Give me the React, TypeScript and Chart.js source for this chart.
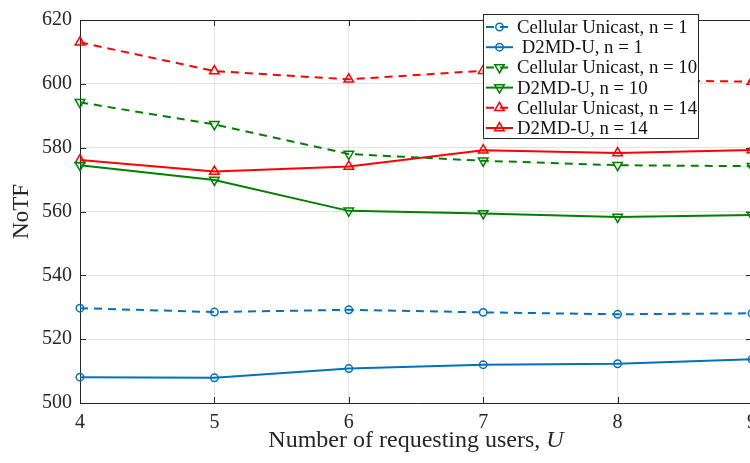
import React, { useEffect, useRef } from 'react';
import { Chart, registerables } from 'chart.js';

Chart.register(...registerables);

// Number of requesting users U
const users = ['4', '5', '6', '7', '8', '9'];

// NoTF per scheme and group size n
const cellularN1 = [529.7, 528.5, 529.2, 528.4, 527.8, 528.1];
const d2mdN1 = [508.1, 507.9, 510.8, 512.0, 512.3, 513.7];
const cellularN10 = [594.2, 587.3, 578.0, 575.9, 574.5, 574.2];
const d2mdN10 = [574.5, 569.9, 560.2, 559.4, 558.3, 558.9];
const cellularN14 = [613.0, 604.0, 601.4, 604.1, 601.2, 600.7];
const d2mdN14 = [576.1, 572.5, 574.1, 579.2, 578.3, 579.3];

const seriesLabels = [
  'Cellular Unicast, n = 1',
  ' D2MD-U, n = 1',
  'Cellular Unicast, n = 10',
  'D2MD-U, n = 10',
  'Cellular Unicast, n = 14',
  'D2MD-U, n = 14',
];

const Y_MIN = 500;
const Y_MAX = 620;
const Y_STEP = 20;

const BLUE = '#0072BD';
const GREEN = '#008000';
const RED = '#FF0000';
const AXIS = '#262626';
const GRID = 'rgba(38,38,38,0.13)';
const DASH = [8, 6];
const SERIF = "'Liberation Serif', 'Times New Roman', serif";

const CANVAS_W = 772;
const CANVAS_H = 463;

type Marker = { style: 'circle' | 'triangle'; rot: number; r: number };

function drawMarker(ctx: CanvasRenderingContext2D, m: Marker, x: number, y: number, color: string) {
  ctx.save();
  ctx.setLineDash([]);
  ctx.beginPath();
  if (m.style === 'circle') {
    ctx.arc(x, y, m.r, 0, Math.PI * 2);
  } else {
    let a = (m.rot * Math.PI) / 180;
    for (let k = 0; k < 3; k++) {
      const px = x + Math.sin(a) * m.r;
      const py = y - Math.cos(a) * m.r;
      if (k === 0) ctx.moveTo(px, py);
      else ctx.lineTo(px, py);
      a += (2 * Math.PI) / 3;
    }
    ctx.closePath();
  }
  ctx.lineWidth = 1.5;
  ctx.strokeStyle = color;
  ctx.stroke();
  ctx.restore();
}

const markers: Marker[] = [
  { style: 'circle', rot: 0, r: 3.7 },
  { style: 'circle', rot: 0, r: 3.7 },
  { style: 'triangle', rot: 180, r: 5.5 },
  { style: 'triangle', rot: 180, r: 5.5 },
  { style: 'triangle', rot: 0, r: 5.5 },
  { style: 'triangle', rot: 0, r: 5.5 },
];
const colors = [BLUE, BLUE, GREEN, GREEN, RED, RED];
const dashed = [true, false, true, false, true, false];
const values = [cellularN1, d2mdN1, cellularN10, d2mdN10, cellularN14, d2mdN14];

// Box around the axes with inward tick marks, x title and legend
const framePlugin = {
  id: 'frame',
  beforeDatasetsDraw(chart: any) {
    const { ctx, chartArea: a, scales } = chart;
    const x = scales.x;
    const y = scales.y;
    const len = 6;
    ctx.save();
    ctx.strokeStyle = AXIS;
    ctx.lineWidth = 1;
    ctx.setLineDash([]);
    ctx.beginPath();
    ctx.rect(Math.round(a.left) + 0.5, Math.round(a.top) + 0.5, Math.round(a.right - a.left), Math.round(a.bottom - a.top));
    x.ticks.forEach((_t: any, i: number) => {
      const px = Math.round(x.getPixelForTick(i)) + 0.5;
      ctx.moveTo(px, a.bottom);
      ctx.lineTo(px, a.bottom - len);
      ctx.moveTo(px, a.top);
      ctx.lineTo(px, a.top + len);
    });
    y.ticks.forEach((_t: any, i: number) => {
      const py = Math.round(y.getPixelForTick(i)) + 0.5;
      ctx.moveTo(a.left, py);
      ctx.lineTo(a.left + len, py);
      ctx.moveTo(a.right, py);
      ctx.lineTo(a.right - len, py);
    });
    ctx.stroke();
    ctx.restore();
  },
  afterDraw(chart: any) {
    const { ctx, chartArea: a } = chart;
    // x-axis title with italic symbol
    ctx.save();
    ctx.fillStyle = AXIS;
    ctx.textBaseline = 'alphabetic';
    const plain = 'Number of requesting users, ';
    const sym = 'U';
    ctx.font = `24px ${SERIF}`;
    const w1 = ctx.measureText(plain).width;
    ctx.font = `italic 24px ${SERIF}`;
    const w2 = ctx.measureText(sym).width;
    const cx = (a.left + a.right) / 2;
    const startX = cx - (w1 + w2) / 2;
    const baseY = 447;
    ctx.font = `24px ${SERIF}`;
    ctx.textAlign = 'left';
    ctx.fillText(plain, startX, baseY);
    ctx.font = `italic 24px ${SERIF}`;
    ctx.fillText(sym, startX + w1, baseY);
    ctx.restore();

    // legend box
    const box = { left: 483, top: 14, right: 698, bottom: 138 };
    ctx.save();
    ctx.fillStyle = '#ffffff';
    ctx.fillRect(box.left, box.top, box.right - box.left, box.bottom - box.top);
    ctx.strokeStyle = '#262626';
    ctx.lineWidth = 1;
    ctx.strokeRect(box.left + 0.5, box.top + 0.5, box.right - box.left, box.bottom - box.top);
    chart.data.datasets.forEach((ds: any, i: number) => {
      const rowY = 27 + i * 20.2;
      ctx.save();
      ctx.strokeStyle = ds.borderColor;
      ctx.lineWidth = 2;
      ctx.setLineDash(ds.borderDash || []);
      ctx.beginPath();
      ctx.moveTo(486, rowY);
      ctx.lineTo(513, rowY);
      ctx.stroke();
      ctx.restore();
      drawMarker(ctx, markers[i], 499.5, rowY, ds.borderColor);
      ctx.fillStyle = '#111111';
      ctx.font = `18.8px ${SERIF}`;
      ctx.textAlign = 'left';
      ctx.textBaseline = 'middle';
      ctx.fillText(ds.label, 517, rowY + 1);
    });
    ctx.restore();
  },
};

export default function App() {
  const canvasRef = useRef<HTMLCanvasElement | null>(null);

  useEffect(() => {
    const canvas = canvasRef.current;
    if (!canvas) return;
    const datasets = values.map((v, i) => ({
      label: seriesLabels[i],
      data: v,
      borderColor: colors[i],
      backgroundColor: colors[i],
      borderWidth: 2,
      borderDash: dashed[i] ? DASH : [],
      pointStyle: markers[i].style,
      pointRotation: markers[i].rot,
      pointRadius: markers[i].r,
      pointBorderWidth: 1.5,
      pointBorderColor: colors[i],
      pointBackgroundColor: 'rgba(0,0,0,0)',
      tension: 0,
      clip: false as any,
    }));

    const chart = new Chart(canvas, {
      type: 'line',
      data: { labels: users, datasets },
      plugins: [framePlugin],
      options: {
        responsive: false,
        animation: false,
        devicePixelRatio: 1,
        layout: { padding: { top: 13, right: CANVAS_W - 752, left: 0, bottom: 0 } },
        plugins: { legend: { display: false }, tooltip: { enabled: false } },
        scales: {
          x: {
            type: 'category',
            offset: false,
            grid: { color: GRID, lineWidth: 1, drawTicks: false },
            border: { display: false },
            ticks: {
              color: AXIS,
              font: { family: SERIF, size: 20 },
              padding: 8,
              maxRotation: 0,
              autoSkip: false,
            },
            afterFit: (s: any) => {
              s.height = CANVAS_H - 403;
            },
          },
          y: {
            min: Y_MIN,
            max: Y_MAX,
            grid: { color: GRID, lineWidth: 1, drawTicks: false },
            border: { display: false },
            ticks: {
              stepSize: Y_STEP,
              color: AXIS,
              font: { family: SERIF, size: 20 },
              padding: 8,
            },
            title: {
              display: true,
              text: 'NoTF',
              color: AXIS,
              font: { family: SERIF, size: 23, weight: 'normal' },
              padding: { top: 8, bottom: 0 },
            },
            afterFit: (s: any) => {
              s.width = 80;
            },
          },
        },
      },
    });
    return () => chart.destroy();
  }, []);

  return (
    <div
      style={{
        position: 'fixed',
        left: 0,
        top: 0,
        width: 750,
        height: 463,
        overflow: 'hidden',
        background: '#ffffff',
      }}
    >
      <canvas ref={canvasRef} width={CANVAS_W} height={CANVAS_H} style={{ display: 'block' }} />
    </div>
  );
}
